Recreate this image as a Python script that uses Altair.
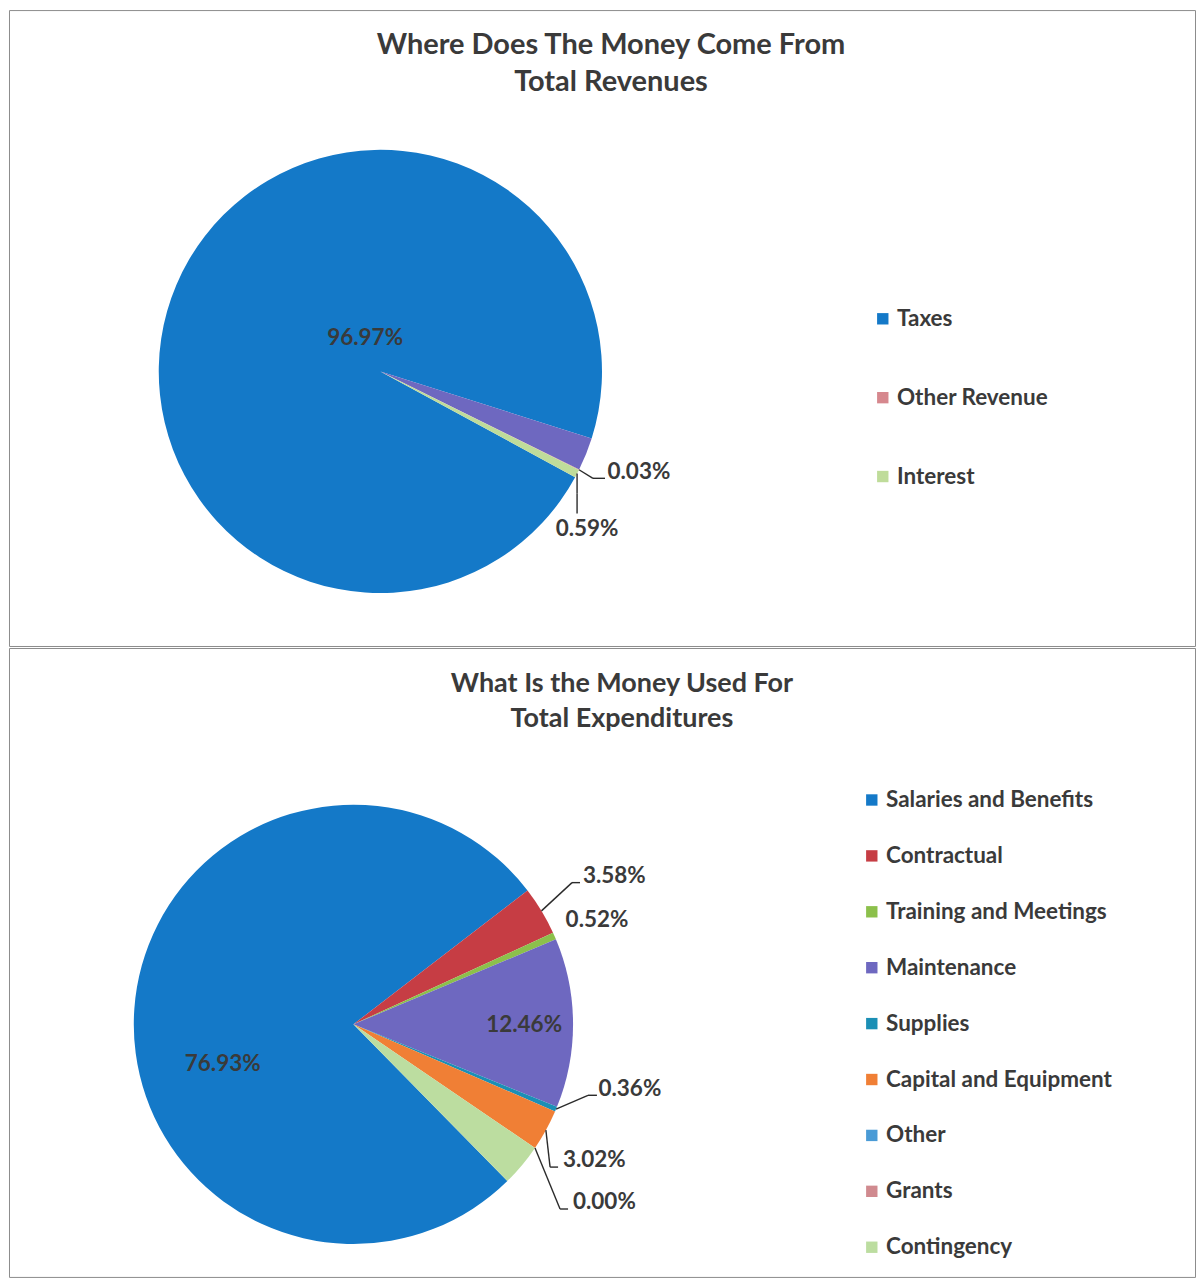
import math
import altair as alt
import pandas as pd

# ---------------- data ----------------
rev_categories = ["Taxes", "(unlabeled)", "Other Revenue", "Interest"]
rev_values = [96.97, 2.41, 0.03, 0.59]
rev_legend = ["Taxes", "Other Revenue", "Interest"]
rev_show = [True, False, True, True]

exp_categories = ["Salaries and Benefits", "Contractual", "Training and Meetings",
                  "Maintenance", "Supplies", "Capital and Equipment", "Other",
                  "Grants", "Contingency"]
exp_values = [76.93, 3.58, 0.52, 12.46, 0.36, 3.02, 0.00, 0.00, 3.13]
exp_show = [True, True, True, True, True, True, True, False, False]

# ---------------- styles / layout ----------------
rev_colors = ["#1479C8", "#6E68C0", "#D6888E", "#BFDC9A"]
exp_colors = ["#1479C8", "#C63D44", "#8CC04B", "#6E68C0", "#1B8FB5",
              "#F07F35", "#4A9BD6", "#D08A8F", "#BCDDA0"]

# label offsets relative to the slice's outer-edge midpoint (text centre),
# leader elbow and leader end offsets (relative to the same edge point)
rev_lab_dx = [189, 0, 60, 10]
rev_lab_dy = [53, 0, 2, 56]
rev_lead = [False, False, True, True]
rev_k_dx = [0, 0, 14, 0]
rev_k_dy = [0, 0, 8.6, 20]
rev_q_dx = [0, 0, 26, 0]
rev_q_dy = [0, 0, 8.6, 40]

exp_lab_dx = [88.5, 73, 42.6, -49, 74, 48.5, 69.5, 0, 0]
exp_lab_dy = [55, -35.3, -15.5, 2.4, -19.9, 30, 54.2, 0, 0]
exp_lead = [False, True, False, False, True, True, True, False, False]
exp_k_dx = [0, 30.6, 0, 0, 32, 4.2, 25.1, 0, 0]
exp_k_dy = [0, -28.3, 0, 0, -13.9, 37, 61.2, 0, 0]
exp_q_dx = [0, 38.6, 0, 0, 41, 12.2, 33.1, 0, 0]
exp_q_dy = [0, -28.3, 0, 0, -13.9, 37, 61.2, 0, 0]

FONT = "Lato"
TXT = "#3a3a3a"
PANEL_W = 1188


def make_df(cats, vals, show, ldx, ldy, lead, kdx, kdy, qdx, qdy):
    return pd.DataFrame({
        "cat": cats, "value": vals, "ord": list(range(len(cats))),
        "show": show, "ldx": ldx, "ldy": ldy, "lead": lead,
        "kdx": kdx, "kdy": kdy, "qdx": qdx, "qdy": qdy,
    })


def pie_panel(df, cats, colors, legend_vals, cx, cy, R, start_deg,
              leg_x, leg_y, row_pad, t1, t2, tx, ty1, ty2, tsize, height):
    start = math.radians(start_deg)
    base = alt.Chart(df)
    arcs = base.mark_arc(outerRadius=R).encode(
        theta=alt.Theta("value:Q", stack=True,
                        scale=alt.Scale(range=[start, start + 2 * math.pi])),
        color=alt.Color("cat:N", scale=alt.Scale(domain=cats, range=colors),
                        legend=alt.Legend(
                            orient="none", legendX=leg_x, legendY=leg_y,
                            title=None, values=legend_vals,
                            symbolType="square", symbolSize=130,
                            symbolStrokeWidth=0, labelFont=FONT,
                            labelFontSize=22.5, labelFontWeight="bold",
                            labelColor=TXT, labelLimit=400, rowPadding=row_pad,
                            labelOffset=3, padding=0)),
        order=alt.Order("ord:Q"),
        x=alt.value(cx), y=alt.value(cy),
    )
    pos = base.transform_joinaggregate(total="sum(value)").transform_window(
        cum="sum(value)", sort=[alt.SortField("ord")], frame=[None, 0]
    ).transform_calculate(
        ang=f"{start} + 2*PI*(datum.cum - datum.value/2)/datum.total",
    ).transform_calculate(
        ex=f"{cx} + {R}*sin(datum.ang)",
        ey=f"{cy} - {R}*cos(datum.ang)",
        lab="format(datum.value, '.2f') + '%'",
    ).transform_calculate(
        tx="datum.ex + datum.ldx", ty="datum.ey + datum.ldy",
        kx="datum.ex + datum.kdx", ky="datum.ey + datum.kdy",
        qx="datum.ex + datum.qdx", qy="datum.ey + datum.qdy",
    )
    labels = pos.transform_filter("datum.show").mark_text(
        font=FONT, fontSize=22.5, fontWeight="bold", color=TXT,
        align="center", baseline="middle").encode(
        x=alt.X("tx:Q", scale=None, axis=None),
        y=alt.Y("ty:Q", scale=None, axis=None),
        text="lab:N")
    lead1 = pos.transform_filter("datum.lead").mark_rule(
        color="#2b2b2b", strokeWidth=1.4).encode(
        x=alt.X("ex:Q", scale=None, axis=None),
        y=alt.Y("ey:Q", scale=None, axis=None),
        x2="kx:Q", y2="ky:Q")
    lead2 = pos.transform_filter("datum.lead").mark_rule(
        color="#2b2b2b", strokeWidth=1.4).encode(
        x=alt.X("kx:Q", scale=None, axis=None),
        y=alt.Y("ky:Q", scale=None, axis=None),
        x2="qx:Q", y2="qy:Q")
    tstyle = dict(font=FONT, fontSize=tsize, fontWeight="bold", color=TXT,
                  align="center", baseline="middle")
    title1 = alt.Chart(alt.Data(values=[{}])).mark_text(**tstyle).encode(
        x=alt.value(tx), y=alt.value(ty1), text=alt.value(t1))
    title2 = alt.Chart(alt.Data(values=[{}])).mark_text(**tstyle).encode(
        x=alt.value(tx), y=alt.value(ty2), text=alt.value(t2))
    return alt.layer(arcs, lead1, lead2, labels, title1, title2).properties(
        width=PANEL_W, height=height)


rev_df = make_df(rev_categories, rev_values, rev_show, rev_lab_dx, rev_lab_dy,
                 rev_lead, rev_k_dx, rev_k_dy, rev_q_dx, rev_q_dy)
exp_df = make_df(exp_categories, exp_values, exp_show, exp_lab_dx, exp_lab_dy,
                 exp_lead, exp_k_dx, exp_k_dy, exp_q_dx, exp_q_dy)

top = pie_panel(rev_df, rev_categories, rev_colors, rev_legend,
                cx=372, cy=362, R=222, start_deg=118.5,
                leg_x=864, leg_y=298, row_pad=56,
                t1="Where Does The Money Come From", t2="Total Revenues",
                tx=603, ty1=35, ty2=72, tsize=29, height=637)
bottom = pie_panel(exp_df, exp_categories, exp_colors, exp_categories,
                   cx=345, cy=377, R=220, start_deg=135.5,
                   leg_x=853, leg_y=141, row_pad=33,
                   t1="What Is the Money Used For", t2="Total Expenditures",
                   tx=614, ty1=36, ty2=71, tsize=27, height=630)

chart = alt.vconcat(top, bottom, spacing=0).resolve_scale(
    color="independent").configure(padding=0).configure_view(
    stroke="#8c8c8c", strokeWidth=1)

chart.save("out.html", embed_options={"renderer": "svg", "actions": False})
